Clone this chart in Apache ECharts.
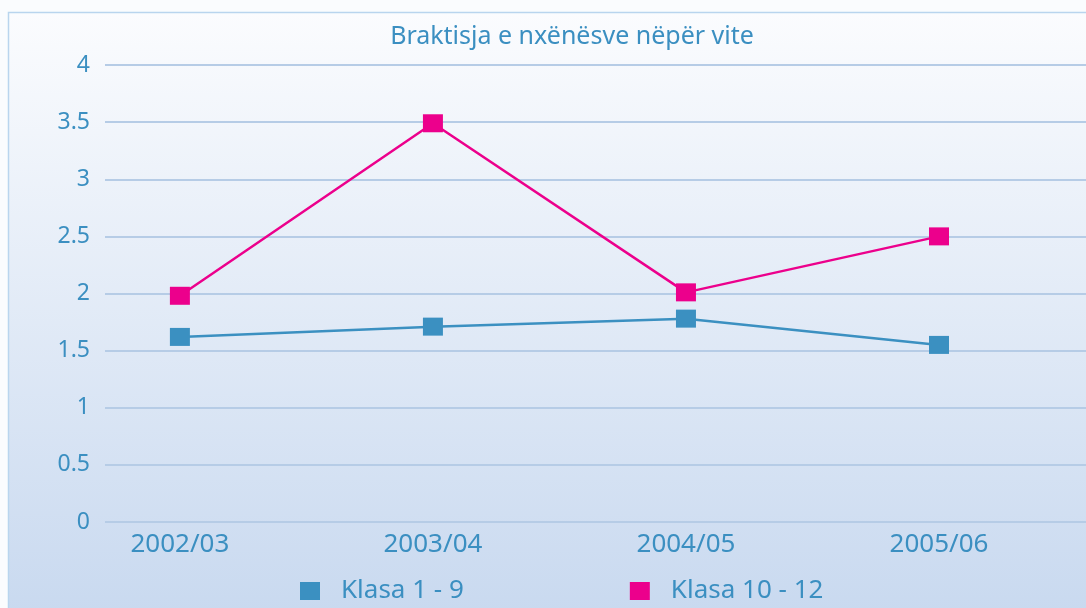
<!DOCTYPE html>
<html>
<head>
<meta charset="utf-8">
<script src="https://cdn.jsdelivr.net/npm/echarts@6/dist/echarts.min.js"></script>
<style>
  html, body { margin: 0; padding: 0; background: #fafcfe; }
  #chart { width: 1086px; height: 608px; }
</style>
</head>
<body>
<div id="chart"></div>
<script>
// school years shown on the x axis
var years = ['2002/03', '2003/04', '2004/05', '2005/06']
// drop-out rate per group
var klasa1to9 = [1.62, 1.71, 1.78, 1.55]
var klasa10to12 = [1.98, 3.49, 2.01, 2.5]
var yTicks = [0, 0.5, 1, 1.5, 2, 2.5, 3, 3.5, 4]

var textColor = '#3b8fc1'
var font = 'Noto Sans'

function toPoints(values) {
  return values.map(function (v, i) { return [i, v] })
}

var chart = echarts.init(document.getElementById('chart'), null, { renderer: 'canvas' })

chart.setOption({
  animation: false,
  graphic: [{
    type: 'rect',
    z: -10,
    silent: true,
    shape: { x: 8.5, y: 12.5, width: 1100, height: 620 },
    style: {
      fill: new echarts.graphic.LinearGradient(0, 0, 0, 1, [
        { offset: 0, color: '#fbfcfe' },
        { offset: 1, color: '#c7d8ef' }
      ]),
      stroke: '#b9d5ee',
      lineWidth: 1.5
    }
  }],
  title: {
    text: 'Braktisja e nxënësve nëpër vite',
    left: 567,
    textAlign: 'center',
    top: 19,
    textStyle: {
      color: textColor,
      fontFamily: font,
      fontWeight: 'normal',
      fontSize: 25
    }
  },
  legend: {
    left: 295,
    top: 573,
    icon: 'rect',
    itemWidth: 20,
    itemHeight: 18,
    itemGap: 166,
    textStyle: {
      color: textColor,
      fontFamily: font,
      fontSize: 26,
      padding: [0, 0, 0, 16]
    },
    data: ['Klasa 1 - 9', 'Klasa 10 - 12']
  },
  grid: {
    left: 105,
    right: 0,
    top: 65,
    bottom: 86
  },
  xAxis: {
    type: 'value',
    min: -0.296,
    max: 3.581,
    splitLine: { show: false },
    axisLine: { show: false },
    axisTick: { show: false },
    axisLabel: {
      customValues: years.map(function (y, i) { return i }),
      formatter: function (v) { return years[Math.round(v)] },
      color: textColor,
      fontFamily: font,
      fontSize: 26,
      margin: 10
    }
  },
  yAxis: {
    type: 'value',
    min: yTicks[0],
    max: yTicks[yTicks.length - 1],
    interval: 0.5,
    axisLine: { show: false },
    axisTick: { show: false },
    axisLabel: {
      color: textColor,
      fontFamily: font,
      fontSize: 23,
      margin: 15
    },
    splitLine: {
      lineStyle: { color: '#b6cce6', width: 2 }
    }
  },
  series: [{
    name: 'Klasa 1 - 9',
    type: 'line',
    data: toPoints(klasa1to9),
    symbol: 'rect',
    symbolSize: [20, 18],
    itemStyle: { color: '#3b90c1' },
    lineStyle: { color: '#3b90c1', width: 2.5 }
  }, {
    name: 'Klasa 10 - 12',
    type: 'line',
    data: toPoints(klasa10to12),
    symbol: 'rect',
    symbolSize: [20, 18],
    itemStyle: { color: '#ec008c' },
    lineStyle: { color: '#ec008c', width: 2.5 }
  }]
})
</script>
</body>
</html>
